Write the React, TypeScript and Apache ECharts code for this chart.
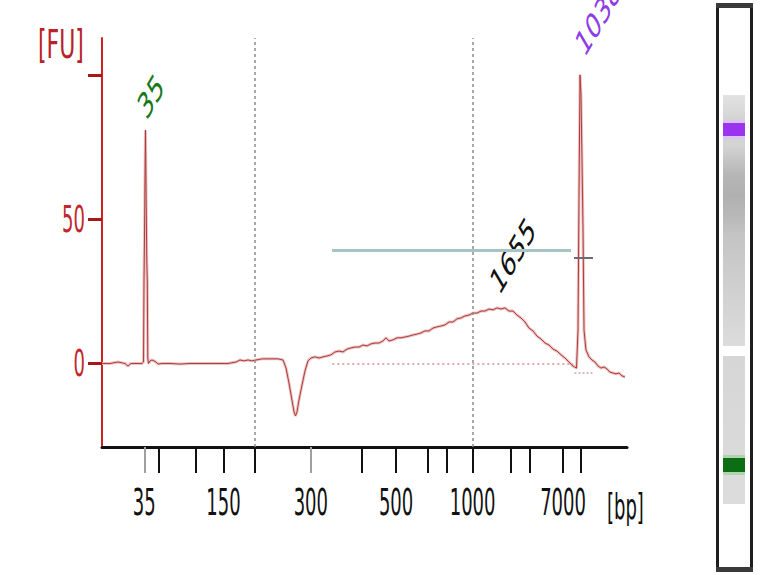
import React, { useEffect, useRef } from "react";
import * as echarts from "echarts";

// Ladder (bp) and its migration time (s) on the x axis
const ladderBp = [35, 50, 100, 150, 200, 300, 400, 500, 600, 700, 1000, 2000, 3000, 7000, 10380];
const ladderTime = [46.04, 48.17, 53.37, 57.36, 61.79, 69.83, 77.1, 82.01, 86.5, 89.19, 92.94, 98.36, 101.04, 105.86, 108.43];
const labeledBp = [35, 150, 300, 500, 1000, 7000];
const grayTickBp = [35, 300];
const dottedGridBp = [200, 1000];
const yTickValues = [0, 50, 100];
const yLabelValues = [0, 50];

// Electropherogram trace: migration time (s) and fluorescence (FU)
const timeSec = [
  40.0, 41.14, 42.29, 43.29, 43.71, 44.14, 45.14, 45.71, 45.93, 46.0, 46.07, 46.14, 46.21, 46.31, 46.4, 46.47,
  46.54, 46.64, 46.86, 47.14, 47.43, 47.71, 48.0, 48.57, 49.71, 51.14, 52.57, 54.0, 56.14, 58.0, 59.14, 59.71,
  60.29, 60.86, 61.43, 62.0, 62.86, 64.0, 65.14, 65.86, 66.29, 66.71, 67.14, 67.43, 67.64, 67.86, 68.14, 68.57,
  69.0, 69.43, 69.86, 70.43, 71.0, 71.57, 72.14, 72.71, 73.29, 73.86, 74.43, 75.0, 75.57, 76.14, 76.71, 77.29,
  77.86, 78.43, 79.0, 79.57, 80.14, 80.57, 81.0, 81.57, 82.14, 82.71, 83.29, 83.86, 84.43, 85.0, 85.57, 86.14,
  86.71, 87.29, 87.86, 88.43, 89.0, 89.57, 90.14, 90.71, 91.29, 91.86, 92.43, 93.0, 93.57, 94.14, 94.71, 95.29,
  95.86, 96.43, 97.0, 97.57, 98.14, 98.71, 99.29, 99.86, 100.43, 101.0, 101.57, 102.14, 102.71, 103.29, 103.86,
  104.43, 105.0, 105.57, 106.14, 106.71, 107.29, 107.79, 108.0, 108.14, 108.29, 108.43, 108.57, 108.71, 108.86,
  109.14, 109.57, 110.0, 110.43, 110.86, 111.29, 111.71, 112.14, 112.57, 113.0, 113.43, 113.86, 114.29, 114.71,
];
const fluorescence = [
  0, 0, 0.5, 0, -0.9, 0, 0, 0, 0.5, 29, 42.9, 63.7, 81, 56.8, 35.2, 29,
  1.9, 0, 0.9, 1.2, 0.9, 0.5, -0.2, 0, 0, -0.2, 0, 0, 0, 0, 0.5, 1.2,
  0.9, 1.2, 0.9, 1.2, 1.6, 1.6, 1.6, 1.2, -1.6, -6.8, -12.7, -16.8, -18.2, -16.8, -12.7, -7.5,
  -2.6, 0.9, 1.9, 2.3, 1.9, 2.3, 2.6, 3.0, 4.0, 4.3, 4.0, 5.0, 5.4, 5.7, 5.7, 6.4,
  6.1, 6.8, 7.1, 7.1, 7.8, 8.9, 7.8, 8.2, 8.9, 8.9, 9.2, 9.5, 9.9, 10.2, 10.6, 11.3,
  11.3, 12.3, 12.7, 13.0, 13.4, 14.4, 14.4, 15.5, 15.8, 16.5, 16.8, 17.5, 17.5, 18.2, 18.2, 18.9,
  18.6, 19.3, 18.9, 19.3, 18.2, 18.2, 16.8, 15.8, 14.4, 12.3, 11.3, 9.5, 8.5, 7.1, 6.4,
  5.0, 4.3, 3.0, 1.9, 0.5, -0.9, -1.6, 11.6, 56.8, 100.2, 93.2, 70.7, 47.7, 11.6,
  4.7, 2.3, 1.2, 0.5, -0.9, -1.6, -1.2, -1.9, -3.0, -3.3, -3.6, -3.3, -4.3, -4.7,
];

// Peak annotations
const peakLabels = ["35", "1655", "10380"];
const peakTime = [46.21, 96.86, 108.29];
const peakFU = [81, 19.3, 100.2];

// Smear region bar and baselines (time range, FU level)
const smearRegionTime = [72.86, 107.0];
const smearRegionFU = 39.4;
const upperMarkerBarTime = [107.43, 110.14];
const upperMarkerBarFU = 36.6;
const smearBaselineTime = [72.9, 107.3];
const smearBaselineFU = 0;
const markerBaselineTime = [107.5, 110.1];
const markerBaselineFU = -3.1;

const FONT = "'DejaVu Sans', 'Liberation Sans', sans-serif";

export default function App() {
  const ref = useRef<HTMLDivElement>(null);

  useEffect(() => {
    if (!ref.current) return;
    const chart = echarts.init(ref.current, undefined, { renderer: "svg" });
    const timeOf = (bp: number) => ladderTime[ladderBp.indexOf(bp)];
    const blackTicks = ladderBp.filter((b) => grayTickBp.indexOf(b) < 0).map(timeOf);
    const grayTicks = grayTickBp.map(timeOf);
    const trace = timeSec.map((t, i) => [t, fluorescence[i]]);

    const option: any = {
      animation: false,
      grid: { left: 102, top: 38, width: 525, height: 409, containLabel: false },
      xAxis: [
        {
          type: "value",
          min: 40,
          max: 115,
          position: "bottom",
          axisLine: { show: true, onZero: false, lineStyle: { color: "#111", width: 3 } },
          axisTick: { show: true, inside: false, length: 26, lineStyle: { color: "#111", width: 2 }, customValues: blackTicks },
          axisLabel: { show: false },
          splitLine: { show: false },
        },
        {
          type: "value",
          min: 40,
          max: 115,
          position: "bottom",
          axisLine: { show: false, onZero: false },
          axisTick: { show: true, inside: false, length: 26, lineStyle: { color: "#a0a0a0", width: 2 }, customValues: grayTicks },
          axisLabel: { show: false },
          splitLine: { show: false },
        },
      ],
      yAxis: {
        type: "value",
        min: -29,
        max: 113,
        axisLine: { show: true, onZero: false, lineStyle: { color: "#d42222", width: 2 } },
        axisTick: { show: true, inside: false, length: 14, lineStyle: { color: "#a81818", width: 3 }, customValues: yTickValues },
        axisLabel: { show: false },
        splitLine: { show: false },
      },
      series: [
        {
          type: "line",
          data: trace,
          showSymbol: false,
          symbol: "none",
          silent: true,
          z: 3,
          lineStyle: { color: "#efc2c2", width: 3 },
          markLine: {
            silent: true,
            symbol: ["none", "none"],
            label: { show: false },
            data: [
              ...dottedGridBp.map((b) => ({ xAxis: timeOf(b), lineStyle: { color: "#8c8c8c", width: 1.5, type: [3, 3] } })),
              [
                { coord: [smearBaselineTime[0], smearBaselineFU], lineStyle: { color: "#d89090", width: 1.5, type: [2, 3] } },
                { coord: [smearBaselineTime[1], smearBaselineFU] },
              ],
              [
                { coord: [markerBaselineTime[0], markerBaselineFU], lineStyle: { color: "#c8a8a8", width: 1.5, type: [2, 2] } },
                { coord: [markerBaselineTime[1], markerBaselineFU] },
              ],
              [
                { coord: [smearRegionTime[0], smearRegionFU], lineStyle: { color: "#a6c4c4", width: 3, type: "solid" } },
                { coord: [smearRegionTime[1], smearRegionFU] },
              ],
              [
                { coord: [upperMarkerBarTime[0], upperMarkerBarFU], lineStyle: { color: "#6a6e70", width: 2, type: "solid" } },
                { coord: [upperMarkerBarTime[1], upperMarkerBarFU] },
              ],
            ],
          },
        },
        {
          type: "line",
          data: trace,
          showSymbol: false,
          symbol: "none",
          silent: true,
          z: 4,
          lineStyle: { color: "#a83c3c", width: 1 },
        },
      ],
    };
    chart.setOption(option);

    const px = (t: number, v: number) => chart.convertToPixel({ gridIndex: 0 }, [t, v]) as number[];
    const axisBottom = px(40, -29)[1];
    const axisLeft = px(40, 0)[0];
    const axisRight = px(115, 0)[0];

    const stretched = (x: number, y: number, text: string, fontSize: number, fill: string, align: string, sx: number, sy: number) => ({
      type: "text",
      x,
      y,
      scaleX: sx,
      scaleY: sy,
      silent: true,
      style: { text, fontSize, fontFamily: FONT, fill, align, verticalAlign: "middle" },
    });

    const elements: any[] = [];
    labeledBp.forEach((b) => {
      const [x] = px(timeOf(b), 0);
      elements.push(stretched(x, axisBottom + 55, String(b), 20, "#111", "center", 0.9, 1.85));
    });
    yLabelValues.forEach((v) => {
      const [, y] = px(40, v);
      elements.push(stretched(axisLeft - 17, y, String(v), 20, "#c0282a", "right", 0.9, 1.85));
    });
    elements.push(stretched(38, 44, "[FU]", 22, "#b82228", "left", 1.0, 1.8));
    elements.push(stretched(axisRight - 20, 507, "[bp]", 20, "#111", "left", 0.9, 1.8));

    const peakColors = ["#18781c", "#111111", "#8f3ce6"];
    const peakOffsets = [
      [5.5, -33.5],
      [13, -52],
      [23, -65],
    ];
    peakLabels.forEach((lab, i) => {
      const [x, y] = px(peakTime[i], peakFU[i]);
      elements.push({
        type: "group",
        x: x + peakOffsets[i][0],
        y: y + peakOffsets[i][1],
        scaleY: 1.7,
        silent: true,
        children: [
          {
            type: "text",
            rotation: Math.PI / 4,
            style: { text: lab, fontSize: 21, fontFamily: FONT, fill: peakColors[i], align: "center", verticalAlign: "middle" },
          },
        ],
      });
    });

    // Virtual gel lane
    elements.push(
      { type: "rect", silent: true, shape: { x: 717.5, y: 5.5, width: 34, height: 564 }, style: { fill: "#fff", stroke: "#1e1e1e", lineWidth: 3 } },
      { type: "rect", silent: true, shape: { x: 716, y: 3, width: 37, height: 5 }, style: { fill: "#3a3a3a" } },
      { type: "rect", silent: true, shape: { x: 716, y: 567, width: 37, height: 5 }, style: { fill: "#3a3a3a" } },
      {
        type: "rect",
        silent: true,
        shape: { x: 723, y: 95, width: 22, height: 251 },
        style: {
          fill: new echarts.graphic.LinearGradient(0, 0, 0, 1, [
            { offset: 0, color: "#e2e2e2" },
            { offset: 0.06, color: "#dadada" },
            { offset: 0.11, color: "#d0d0d0" },
            { offset: 0.2, color: "#d4d4d4" },
            { offset: 0.26, color: "#c4c4c4" },
            { offset: 0.32, color: "#b6b6b6" },
            { offset: 0.4, color: "#b0b0b0" },
            { offset: 0.48, color: "#b8b8b8" },
            { offset: 0.56, color: "#c4c4c4" },
            { offset: 0.7, color: "#cccccc" },
            { offset: 0.85, color: "#d4d4d4" },
            { offset: 1, color: "#dcdcdc" },
          ]),
        },
      },
      { type: "rect", silent: true, shape: { x: 723, y: 120, width: 22, height: 19 }, style: { fill: "#dcc4f2" } },
      { type: "rect", silent: true, shape: { x: 723, y: 123, width: 22, height: 13 }, style: { fill: "#9a34ee" } },
      {
        type: "rect",
        silent: true,
        shape: { x: 723, y: 356, width: 22, height: 148 },
        style: {
          fill: new echarts.graphic.LinearGradient(0, 0, 0, 1, [
            { offset: 0, color: "#d6d6d6" },
            { offset: 1, color: "#dcdcdc" },
          ]),
        },
      },
      { type: "rect", silent: true, shape: { x: 723, y: 455, width: 22, height: 20 }, style: { fill: "#b0d4b0" } },
      { type: "rect", silent: true, shape: { x: 723, y: 458, width: 22, height: 14 }, style: { fill: "#0c6e12" } }
    );

    chart.setOption({ graphic: { elements } });
    return () => chart.dispose();
  }, []);

  return <div ref={ref} style={{ position: "fixed", left: 0, top: 0, width: 784, height: 575, background: "#fff" }} />;
}
